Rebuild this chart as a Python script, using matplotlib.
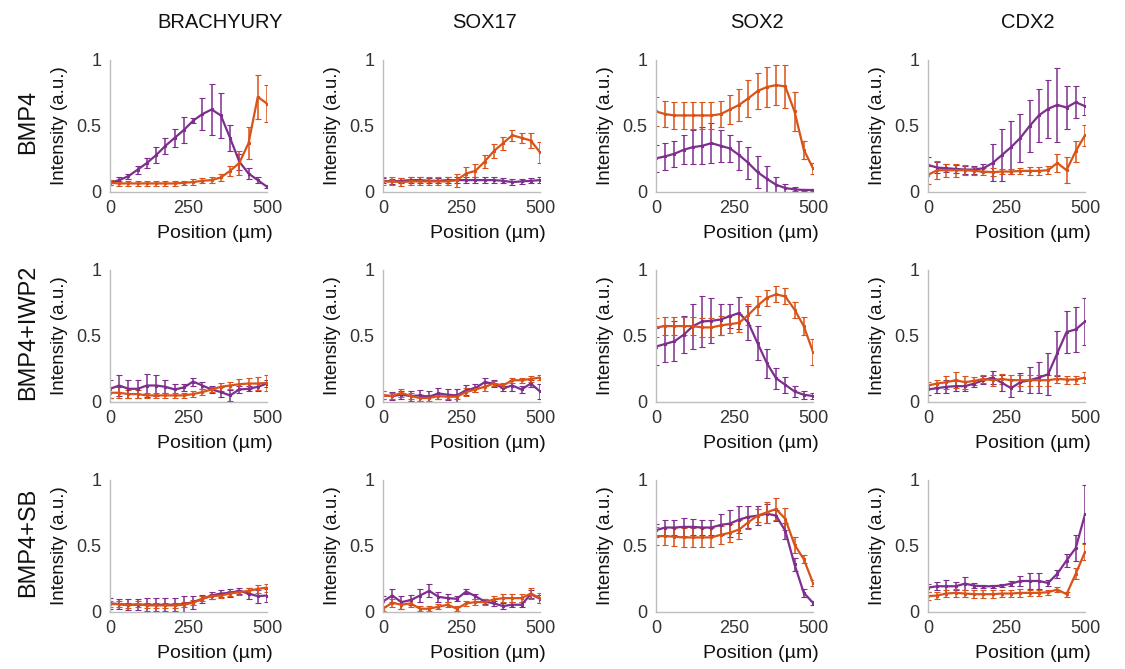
import numpy as np
import matplotlib
matplotlib.use("Agg")
import matplotlib.pyplot as plt

plt.rcParams['font.family'] = ['Liberation Sans', 'DejaVu Sans']

# columns / rows
genes = ['BRACHYURY', 'SOX17', 'SOX2', 'CDX2']
conditions = ['BMP4', 'BMP4+IWP2', 'BMP4+SB']
position = np.linspace(0, 500, 18)  # µm, 18 bins

# ---- BMP4 ----
bra_bmp4_p = [0.07, 0.09, 0.12, 0.17, 0.22, 0.28, 0.35, 0.41, 0.47, 0.54, 0.59, 0.625, 0.58, 0.41, 0.23, 0.14, 0.09, 0.04]
bra_bmp4_p_err = [0.02, 0.02, 0.02, 0.03, 0.04, 0.06, 0.06, 0.07, 0.1, 0.02, 0.12, 0.19, 0.17, 0.1, 0.06, 0.04, 0.02, 0.01]
bra_bmp4_o = [0.07, 0.065, 0.065, 0.065, 0.065, 0.065, 0.065, 0.065, 0.07, 0.075, 0.085, 0.09, 0.11, 0.16, 0.22, 0.37, 0.72, 0.67]
bra_bmp4_o_err = [0.02, 0.02, 0.02, 0.02, 0.02, 0.02, 0.02, 0.02, 0.015, 0.02, 0.02, 0.02, 0.03, 0.04, 0.09, 0.12, 0.17, 0.14]

sox17_bmp4_p = [0.085, 0.08, 0.085, 0.09, 0.09, 0.085, 0.085, 0.09, 0.09, 0.09, 0.09, 0.09, 0.09, 0.085, 0.075, 0.08, 0.085, 0.09]
sox17_bmp4_p_err = [0.02] * 18
sox17_bmp4_o = [0.08, 0.08, 0.075, 0.08, 0.08, 0.08, 0.08, 0.08, 0.09, 0.14, 0.16, 0.23, 0.31, 0.37, 0.43, 0.41, 0.39, 0.3]
sox17_bmp4_o_err = [0.03, 0.03, 0.03, 0.03, 0.03, 0.03, 0.03, 0.03, 0.05, 0.05, 0.05, 0.05, 0.05, 0.05, 0.04, 0.04, 0.06, 0.08]

sox2_bmp4_p = [0.255, 0.27, 0.29, 0.32, 0.34, 0.35, 0.37, 0.35, 0.33, 0.28, 0.22, 0.15, 0.1, 0.055, 0.03, 0.02, 0.015, 0.015]
sox2_bmp4_p_err = [0.1, 0.1, 0.1, 0.11, 0.13, 0.14, 0.15, 0.12, 0.1, 0.11, 0.12, 0.12, 0.1, 0.06, 0.03, 0.015, 0.01, 0.01]
sox2_bmp4_o = [0.61, 0.59, 0.58, 0.58, 0.58, 0.58, 0.58, 0.59, 0.625, 0.66, 0.71, 0.765, 0.795, 0.81, 0.8, 0.61, 0.32, 0.18]
sox2_bmp4_o_err = [0.11, 0.1, 0.1, 0.1, 0.1, 0.1, 0.1, 0.1, 0.11, 0.12, 0.14, 0.14, 0.15, 0.15, 0.16, 0.15, 0.07, 0.04]

cdx2_bmp4_p = [0.205, 0.185, 0.18, 0.175, 0.17, 0.17, 0.18, 0.22, 0.28, 0.34, 0.41, 0.5, 0.58, 0.63, 0.66, 0.64, 0.68, 0.65]
cdx2_bmp4_p_err = [0.06, 0.04, 0.03, 0.03, 0.03, 0.03, 0.03, 0.14, 0.2, 0.2, 0.18, 0.2, 0.2, 0.22, 0.28, 0.16, 0.12, 0.07]
cdx2_bmp4_o = [0.13, 0.165, 0.165, 0.165, 0.165, 0.16, 0.155, 0.15, 0.155, 0.155, 0.16, 0.16, 0.16, 0.165, 0.22, 0.165, 0.31, 0.43]
cdx2_bmp4_o_err = [0.07, 0.07, 0.05, 0.05, 0.04, 0.03, 0.03, 0.03, 0.02, 0.02, 0.02, 0.03, 0.03, 0.03, 0.07, 0.1, 0.08, 0.08]

# ---- BMP4+IWP2 ----
bra_iwp2_p = [0.1, 0.125, 0.1, 0.1, 0.125, 0.125, 0.115, 0.095, 0.11, 0.155, 0.125, 0.095, 0.075, 0.05, 0.095, 0.1, 0.115, 0.14]
bra_iwp2_p_err = [0.07, 0.08, 0.07, 0.07, 0.09, 0.08, 0.05, 0.04, 0.03, 0.03, 0.03, 0.03, 0.04, 0.04, 0.03, 0.02, 0.03, 0.03]
bra_iwp2_o = [0.07, 0.07, 0.06, 0.06, 0.05, 0.05, 0.05, 0.05, 0.05, 0.06, 0.075, 0.095, 0.115, 0.125, 0.135, 0.14, 0.14, 0.145]
bra_iwp2_o_err = [0.04, 0.04, 0.03, 0.03, 0.02, 0.02, 0.02, 0.02, 0.02, 0.02, 0.02, 0.02, 0.03, 0.03, 0.04, 0.04, 0.05, 0.06]

sox17_iwp2_p = [0.05, 0.045, 0.055, 0.045, 0.05, 0.04, 0.065, 0.055, 0.05, 0.09, 0.105, 0.15, 0.14, 0.105, 0.125, 0.095, 0.14, 0.08]
sox17_iwp2_p_err = [0.03, 0.03, 0.03, 0.04, 0.04, 0.04, 0.04, 0.04, 0.05, 0.04, 0.03, 0.03, 0.03, 0.02, 0.04, 0.03, 0.03, 0.06]
sox17_iwp2_o = [0.05, 0.045, 0.07, 0.045, 0.03, 0.03, 0.045, 0.04, 0.04, 0.075, 0.095, 0.115, 0.14, 0.125, 0.165, 0.165, 0.175, 0.185]
sox17_iwp2_o_err = [0.03, 0.02, 0.03, 0.02, 0.02, 0.02, 0.02, 0.02, 0.02, 0.03, 0.02, 0.03, 0.02, 0.02, 0.02, 0.02, 0.02, 0.02]

sox2_iwp2_p = [0.42, 0.44, 0.46, 0.51, 0.575, 0.61, 0.615, 0.625, 0.65, 0.675, 0.6, 0.445, 0.295, 0.18, 0.13, 0.08, 0.055, 0.045]
sox2_iwp2_p_err = [0.14, 0.14, 0.15, 0.14, 0.17, 0.19, 0.17, 0.12, 0.09, 0.12, 0.13, 0.13, 0.11, 0.08, 0.06, 0.04, 0.03, 0.02]
sox2_iwp2_o = [0.565, 0.575, 0.575, 0.575, 0.575, 0.565, 0.565, 0.58, 0.59, 0.6, 0.66, 0.73, 0.79, 0.815, 0.8, 0.7, 0.575, 0.38]
sox2_iwp2_o_err = [0.07, 0.07, 0.07, 0.07, 0.07, 0.07, 0.07, 0.07, 0.07, 0.07, 0.08, 0.07, 0.06, 0.06, 0.06, 0.06, 0.07, 0.1]

cdx2_iwp2_p = [0.095, 0.105, 0.115, 0.12, 0.12, 0.14, 0.165, 0.185, 0.145, 0.105, 0.15, 0.165, 0.185, 0.21, 0.37, 0.53, 0.55, 0.61]
cdx2_iwp2_p_err = [0.04, 0.04, 0.05, 0.04, 0.04, 0.03, 0.03, 0.05, 0.06, 0.07, 0.07, 0.1, 0.12, 0.16, 0.17, 0.16, 0.17, 0.18]
cdx2_iwp2_o = [0.125, 0.14, 0.15, 0.165, 0.15, 0.16, 0.175, 0.165, 0.175, 0.165, 0.165, 0.165, 0.165, 0.165, 0.175, 0.17, 0.17, 0.185]
cdx2_iwp2_o_err = [0.03, 0.03, 0.05, 0.06, 0.05, 0.03, 0.03, 0.04, 0.04, 0.04, 0.04, 0.04, 0.04, 0.04, 0.03, 0.03, 0.03, 0.04]

# ---- BMP4+SB ----
bra_sb_p = [0.065, 0.06, 0.055, 0.055, 0.055, 0.055, 0.055, 0.055, 0.06, 0.075, 0.1, 0.125, 0.14, 0.145, 0.16, 0.14, 0.12, 0.125]
bra_sb_p_err = [0.04, 0.04, 0.04, 0.04, 0.05, 0.05, 0.05, 0.05, 0.06, 0.05, 0.03, 0.03, 0.03, 0.03, 0.02, 0.04, 0.05, 0.05]
bra_sb_o = [0.06, 0.06, 0.05, 0.06, 0.05, 0.05, 0.05, 0.05, 0.055, 0.07, 0.1, 0.12, 0.125, 0.14, 0.15, 0.16, 0.175, 0.185]
bra_sb_o_err = [0.02, 0.02, 0.02, 0.02, 0.02, 0.02, 0.02, 0.02, 0.02, 0.02, 0.02, 0.02, 0.02, 0.02, 0.02, 0.02, 0.03, 0.03]

sox17_sb_p = [0.08, 0.125, 0.075, 0.09, 0.125, 0.16, 0.115, 0.105, 0.1, 0.155, 0.12, 0.08, 0.065, 0.045, 0.055, 0.055, 0.135, 0.1]
sox17_sb_p_err = [0.04, 0.05, 0.05, 0.04, 0.05, 0.05, 0.04, 0.03, 0.02, 0.02, 0.02, 0.02, 0.02, 0.02, 0.02, 0.02, 0.03, 0.03]
sox17_sb_o = [0.025, 0.07, 0.055, 0.065, 0.025, 0.025, 0.04, 0.055, 0.025, 0.065, 0.075, 0.075, 0.095, 0.105, 0.105, 0.105, 0.14, 0.105]
sox17_sb_o_err = [0.02, 0.03, 0.03, 0.03, 0.02, 0.02, 0.02, 0.02, 0.02, 0.02, 0.02, 0.02, 0.03, 0.03, 0.03, 0.03, 0.04, 0.04]

sox2_sb_p = [0.62, 0.64, 0.64, 0.645, 0.645, 0.64, 0.64, 0.66, 0.67, 0.7, 0.72, 0.73, 0.745, 0.73, 0.615, 0.36, 0.145, 0.07]
sox2_sb_p_err = [0.05, 0.06, 0.06, 0.07, 0.06, 0.06, 0.06, 0.08, 0.1, 0.1, 0.08, 0.07, 0.07, 0.04, 0.06, 0.05, 0.03, 0.015]
sox2_sb_o = [0.575, 0.575, 0.57, 0.565, 0.565, 0.565, 0.565, 0.585, 0.6, 0.625, 0.68, 0.73, 0.755, 0.78, 0.705, 0.51, 0.4, 0.22]
sox2_sb_o_err = [0.07, 0.07, 0.07, 0.07, 0.07, 0.07, 0.07, 0.07, 0.07, 0.07, 0.05, 0.05, 0.08, 0.08, 0.08, 0.06, 0.03, 0.02]

cdx2_sb_p = [0.185, 0.195, 0.195, 0.195, 0.215, 0.2, 0.195, 0.195, 0.2, 0.215, 0.235, 0.235, 0.235, 0.22, 0.29, 0.39, 0.485, 0.74]
cdx2_sb_p_err = [0.03, 0.03, 0.05, 0.03, 0.05, 0.02, 0.01, 0.01, 0.01, 0.02, 0.04, 0.06, 0.06, 0.02, 0.03, 0.05, 0.1, 0.22]
cdx2_sb_o = [0.12, 0.125, 0.14, 0.145, 0.14, 0.135, 0.135, 0.135, 0.14, 0.14, 0.145, 0.145, 0.145, 0.15, 0.17, 0.135, 0.29, 0.455]
cdx2_sb_o_err = [0.03, 0.03, 0.03, 0.03, 0.03, 0.03, 0.03, 0.03, 0.03, 0.03, 0.03, 0.02, 0.02, 0.02, 0.02, 0.02, 0.04, 0.06]

panels = [
    [(bra_bmp4_p, bra_bmp4_p_err, bra_bmp4_o, bra_bmp4_o_err),
     (sox17_bmp4_p, sox17_bmp4_p_err, sox17_bmp4_o, sox17_bmp4_o_err),
     (sox2_bmp4_p, sox2_bmp4_p_err, sox2_bmp4_o, sox2_bmp4_o_err),
     (cdx2_bmp4_p, cdx2_bmp4_p_err, cdx2_bmp4_o, cdx2_bmp4_o_err)],
    [(bra_iwp2_p, bra_iwp2_p_err, bra_iwp2_o, bra_iwp2_o_err),
     (sox17_iwp2_p, sox17_iwp2_p_err, sox17_iwp2_o, sox17_iwp2_o_err),
     (sox2_iwp2_p, sox2_iwp2_p_err, sox2_iwp2_o, sox2_iwp2_o_err),
     (cdx2_iwp2_p, cdx2_iwp2_p_err, cdx2_iwp2_o, cdx2_iwp2_o_err)],
    [(bra_sb_p, bra_sb_p_err, bra_sb_o, bra_sb_o_err),
     (sox17_sb_p, sox17_sb_p_err, sox17_sb_o, sox17_sb_o_err),
     (sox2_sb_p, sox2_sb_p_err, sox2_sb_o, sox2_sb_o_err),
     (cdx2_sb_p, cdx2_sb_p_err, cdx2_sb_o, cdx2_sb_o_err)],
]

purple = '#7E2F8E'
orange = '#D95319'
axis_col = '#bdbdbd'
text_col = '#333333'

W, H = 1125, 669
fig = plt.figure(figsize=(W / 100, H / 100), dpi=100)

col_left = [110, 383, 656, 928]
row_top = [60, 270, 480]
ax_w, ax_h = 157, 132
title_x = [220, 485, 757, 1028]

for r in range(3):
    for c in range(4):
        ax = fig.add_axes([col_left[c] / W, 1 - (row_top[r] + ax_h) / H, ax_w / W, ax_h / H])
        p, pe, o, oe = panels[r][c]
        for vals, errs, col in ((p, pe, purple), (o, oe, orange)):
            ax.errorbar(position, vals, yerr=errs, color=col, lw=1.6, elinewidth=1.1,
                        capsize=2.4, capthick=1.2, marker='s', ms=1.6, mew=0.8)
        ax.set_xlim(0, 500)
        ax.set_ylim(0, 1)
        ax.set_xticks([0, 250, 500])
        ax.set_yticks([0, 0.5, 1])
        ax.set_yticklabels(['0', '0.5', '1'])
        for s in ('top', 'right'):
            ax.spines[s].set_visible(False)
        for s in ('left', 'bottom'):
            ax.spines[s].set_color(axis_col)
            ax.spines[s].set_linewidth(1)
        ax.tick_params(length=0, labelsize=13, colors=text_col, pad=6)
        ax.set_ylabel('Intensity (a.u.)', fontsize=13.5, color='#111111')
        ax.yaxis.set_label_coords(-0.27, 0.5)
        ax.set_xlabel('Position (µm)', fontsize=14, color='#111111')
        ax.xaxis.set_label_coords(0.67, -0.25)

for c, g in enumerate(genes):
    fig.text(title_x[c] / W, 1 - 22 / H, g, fontsize=14.5, ha='center', va='center', color='#111111')

for r, cond in enumerate(conditions):
    fig.text(28 / W, 1 - (row_top[r] + ax_h / 2 - 4) / H, cond, fontsize=17, rotation=90,
             ha='center', va='center', color='#111111')

fig.savefig('out.png', dpi=100)
